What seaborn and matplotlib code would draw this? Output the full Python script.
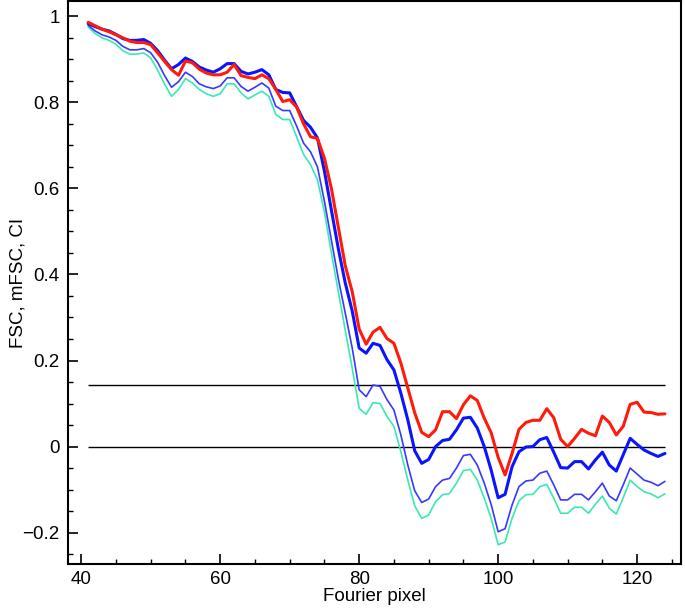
import numpy as np
import pandas as pd
import matplotlib
matplotlib.use("Agg")
import matplotlib.pyplot as plt
from matplotlib.ticker import MultipleLocator, FuncFormatter
import seaborn as sns

pixel = list(range(41, 125))

fsc = [0.986, 0.978, 0.970, 0.964, 0.957, 0.950, 0.942, 0.939, 0.939, 0.934,
       0.915, 0.895, 0.876, 0.863, 0.896, 0.892, 0.877, 0.868, 0.864, 0.864,
       0.870, 0.888, 0.862, 0.858, 0.855, 0.864, 0.855, 0.830, 0.802, 0.806,
       0.789, 0.750, 0.720, 0.716, 0.670, 0.600, 0.510, 0.420, 0.360, 0.273,
       0.238, 0.266, 0.277, 0.251, 0.240, 0.194, 0.136, 0.078, 0.033, 0.023,
       0.039, 0.081, 0.081, 0.065, 0.097, 0.118, 0.107, 0.066, 0.032, -0.025,
       -0.066, -0.016, 0.040, 0.056, 0.061, 0.061, 0.088, 0.067, 0.017, 0.000,
       0.019, 0.040, 0.031, 0.025, 0.071, 0.056, 0.027, 0.047, 0.098, 0.103,
       0.080, 0.079, 0.075, 0.076]

mfsc = [0.983, 0.976, 0.970, 0.966, 0.958, 0.948, 0.944, 0.944, 0.946, 0.937,
        0.920, 0.898, 0.878, 0.888, 0.903, 0.895, 0.882, 0.875, 0.870, 0.878,
        0.890, 0.890, 0.872, 0.866, 0.870, 0.876, 0.864, 0.830, 0.823, 0.822,
        0.790, 0.758, 0.742, 0.717, 0.640, 0.550, 0.460, 0.380, 0.315, 0.229,
        0.217, 0.240, 0.235, 0.202, 0.178, 0.124, 0.062, -0.010, -0.039, -0.030,
        0.000, 0.014, 0.017, 0.039, 0.066, 0.068, 0.043, 0.000, -0.055, -0.119,
        -0.111, -0.047, -0.012, -0.001, 0.000, 0.016, 0.021, -0.013, -0.049, -0.050,
        -0.035, -0.035, -0.052, -0.031, -0.013, -0.043, -0.057, -0.019, 0.019, 0.005,
        -0.008, -0.016, -0.023, -0.016]

ci_upper = [0.979, 0.966, 0.957, 0.952, 0.944, 0.930, 0.922, 0.922, 0.925, 0.915,
            0.893, 0.862, 0.835, 0.848, 0.870, 0.860, 0.843, 0.836, 0.832, 0.838,
            0.857, 0.857, 0.837, 0.826, 0.835, 0.845, 0.833, 0.791, 0.781, 0.781,
            0.745, 0.705, 0.685, 0.650, 0.570, 0.480, 0.390, 0.310, 0.229, 0.132,
            0.116, 0.143, 0.140, 0.109, 0.085, 0.027, -0.043, -0.103, -0.130, -0.122,
            -0.093, -0.078, -0.074, -0.050, -0.021, -0.018, -0.043, -0.085, -0.135, -0.198,
            -0.191, -0.136, -0.093, -0.080, -0.078, -0.062, -0.057, -0.089, -0.124, -0.124,
            -0.111, -0.111, -0.124, -0.105, -0.085, -0.115, -0.126, -0.089, -0.050, -0.064,
            -0.078, -0.083, -0.091, -0.081]

ci_lower = [0.975, 0.960, 0.950, 0.944, 0.935, 0.920, 0.912, 0.912, 0.915, 0.903,
            0.875, 0.842, 0.814, 0.830, 0.855, 0.845, 0.830, 0.820, 0.814, 0.820,
            0.843, 0.843, 0.822, 0.808, 0.817, 0.826, 0.814, 0.772, 0.760, 0.760,
            0.720, 0.679, 0.655, 0.620, 0.545, 0.450, 0.360, 0.270, 0.182, 0.089,
            0.075, 0.102, 0.100, 0.070, 0.047, -0.012, -0.078, -0.138, -0.167, -0.159,
            -0.128, -0.112, -0.109, -0.085, -0.056, -0.053, -0.078, -0.120, -0.167, -0.228,
            -0.222, -0.167, -0.126, -0.112, -0.111, -0.093, -0.088, -0.120, -0.155, -0.155,
            -0.141, -0.141, -0.155, -0.134, -0.115, -0.143, -0.157, -0.119, -0.078, -0.093,
            -0.105, -0.110, -0.119, -0.110]

thresholds = [0.143, 0.0]

curves = {"CI low": ci_lower, "CI high": ci_upper, "mFSC": mfsc, "FSC": fsc}
df = pd.concat(
    [pd.DataFrame({"pixel": pixel, "value": v, "curve": k}) for k, v in curves.items()],
    ignore_index=True,
)

palette = {"CI low": "#3ae8b4", "CI high": "#3838ff", "mFSC": "#0a14ff", "FSC": "#ff1a0a"}
widths = {"CI low": 1.2, "CI high": 1.2, "mFSC": 2.2, "FSC": 2.2}

sns.set_style("ticks")
plt.rcParams["font.family"] = ["Liberation Sans", "DejaVu Sans"]
plt.rcParams.update({
    "text.color": "black", "axes.labelcolor": "black", "axes.edgecolor": "black",
    "xtick.color": "black", "ytick.color": "black",
})

fig, ax = plt.subplots(figsize=(6.85, 6.12), dpi=100)
fig.subplots_adjust(left=0.0993, right=0.994, top=0.998, bottom=0.0784)

# threshold lines only over the sampled range
ax.hlines(thresholds, pixel[0], pixel[-1], color="black", linewidth=1.0)

sns.lineplot(
    data=df, x="pixel", y="value",
    hue="curve", hue_order=list(curves), palette=palette,
    size="curve", size_order=list(curves), sizes=widths,
    estimator=None, legend=False, ax=ax,
)

ax.set_xlim(38.1, 126.3)
ax.set_ylim(-0.273, 1.035)
ax.xaxis.set_major_locator(MultipleLocator(20))
ax.xaxis.set_minor_locator(MultipleLocator(5))
ax.yaxis.set_major_locator(MultipleLocator(0.2))
ax.yaxis.set_minor_locator(MultipleLocator(0.05))
ax.yaxis.set_major_formatter(FuncFormatter(lambda v, p: f"{v:g}".replace("-", "\u2212") if abs(v) > 1e-9 else "0"))

ax.tick_params(which="major", direction="in", length=7.5, width=1.2, labelsize=13.5)
ax.tick_params(axis="x", which="major", pad=5)
ax.tick_params(axis="y", which="major", pad=6)
ax.tick_params(which="minor", direction="in", length=3.8, width=1.0)
for s in ax.spines.values():
    s.set_linewidth(1.5)

ax.set_xlabel("Fourier pixel", fontsize=13.5, labelpad=0)
ax.set_ylabel("FSC, mFSC, CI", fontsize=13.5)
ax.yaxis.set_label_coords(-0.068, 0.5)

fig.savefig("out.png", dpi=100)
